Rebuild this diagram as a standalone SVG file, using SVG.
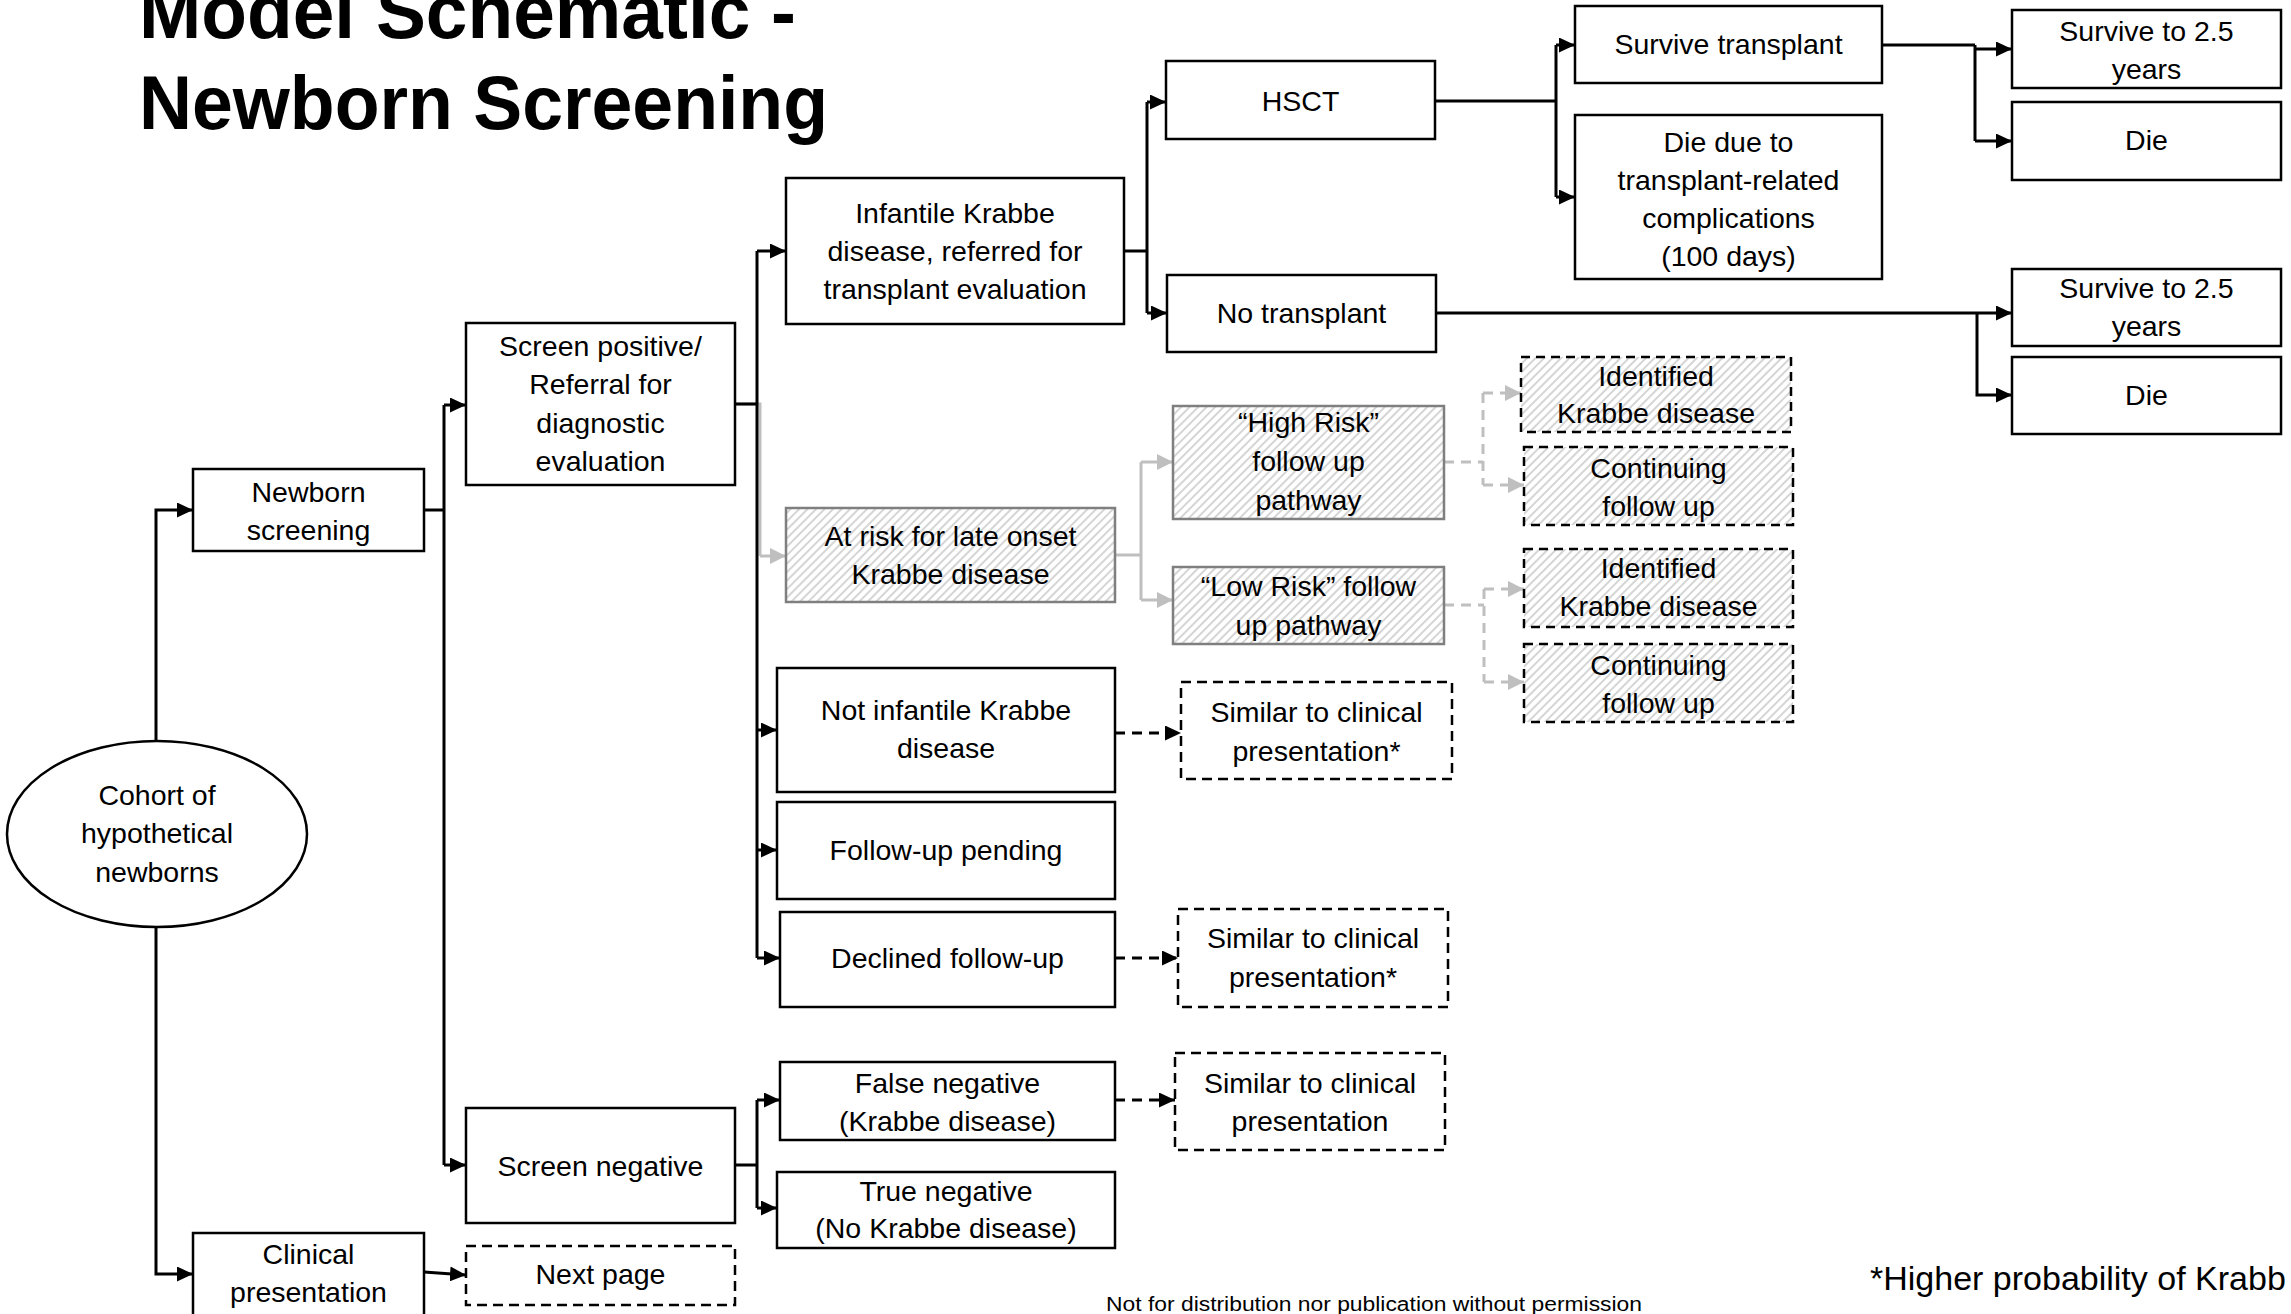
<svg xmlns="http://www.w3.org/2000/svg" width="2291" height="1314" viewBox="0 0 2291 1314">
<defs>
<style>
.box{fill:#fff;stroke:#000;stroke-width:2.5}
.dbox{fill:#fff;stroke:#000;stroke-width:2.5;stroke-dasharray:10 6}
.hbox{fill:url(#hatch);stroke:#7f7f7f;stroke-width:2.5}
.hdbox{fill:url(#hatch);stroke:#000;stroke-width:2.5;stroke-dasharray:9 6}
.t{font-family:"Liberation Sans",Arial,sans-serif;font-size:28.5px;text-anchor:middle;fill:#000}
.title{font-family:"Liberation Sans",Arial,sans-serif;font-size:76px;font-weight:bold;fill:#000}
.c{fill:none;stroke:#000;stroke-width:3}
.ca{fill:none;stroke:#000;stroke-width:3;marker-end:url(#ab)}
.cda{fill:none;stroke:#000;stroke-width:3;stroke-dasharray:10 7;marker-end:url(#ab)}
.g{fill:none;stroke:#bfbfbf;stroke-width:3}
.ga{fill:none;stroke:#bfbfbf;stroke-width:3;marker-end:url(#ag)}
.gd{fill:none;stroke:#bfbfbf;stroke-width:3;stroke-dasharray:10 7}
.gda{fill:none;stroke:#bfbfbf;stroke-width:3;stroke-dasharray:10 7;marker-end:url(#ag)}
</style>
<pattern id="hatch" patternUnits="userSpaceOnUse" width="6" height="6" patternTransform="rotate(45)">
<rect width="6" height="6" fill="#fff"/>
<line x1="1" y1="0" x2="1" y2="6" stroke="#b3b3b3" stroke-width="1.1"/>
</pattern>
<marker id="ab" markerUnits="userSpaceOnUse" markerWidth="17" markerHeight="15" refX="16" refY="7.5" orient="auto">
<path d="M0,0 L16,7.5 L0,15 z" fill="#000"/>
</marker>
<marker id="ag" markerUnits="userSpaceOnUse" markerWidth="17" markerHeight="16" refX="16" refY="8" orient="auto">
<path d="M0,0 L16,8 L0,16 z" fill="#bfbfbf"/>
</marker>
</defs>
<rect width="2291" height="1314" fill="#fff"/>

<g id="title">
<text class="title" x="139" y="38" textLength="657" lengthAdjust="spacingAndGlyphs">Model Schematic -</text>
<text class="title" x="139" y="129" textLength="689" lengthAdjust="spacingAndGlyphs">Newborn Screening</text>
</g>

<g id="connectors">
<path class="ca" d="M156,741 V510 H193"/>
<path class="ca" d="M156,927 V1274 H193"/>
<path class="c" d="M424,510 H444 M444,405 V1165"/>
<path class="ca" d="M444,405 H466"/>
<path class="ca" d="M444,1165 H466"/>
<path class="ca" d="M424,1272 L466,1275"/>
<path class="g" d="M735,404 H760 V556"/>
<path class="ga" d="M760,556 H786"/>
<path class="c" d="M735,404 H757 M757,251 V958"/>
<path class="ca" d="M757,251 H786"/>
<path class="ca" d="M757,730 H777"/>
<path class="ca" d="M757,850 H777"/>
<path class="ca" d="M757,958 H780"/>
<path class="c" d="M1124,251 H1147 M1147,102 V313"/>
<path class="ca" d="M1147,102 H1166"/>
<path class="ca" d="M1147,313 H1167"/>
<path class="c" d="M1435,101 H1556 M1556,45 V197"/>
<path class="ca" d="M1556,45 H1575"/>
<path class="ca" d="M1556,197 H1575"/>
<path class="c" d="M1882,45 H1975 M1975,45 V141"/>
<path class="ca" d="M1975,49 H2012"/>
<path class="ca" d="M1975,141 H2012"/>
<path class="ca" d="M1436,313 H2012"/>
<path class="ca" d="M1977,313 V395 H2012"/>
<path class="g" d="M1115,555 H1141 M1141,462 V600"/>
<path class="ga" d="M1141,462 H1173"/>
<path class="ga" d="M1141,600 H1173"/>
<path class="gd" d="M1444,462 H1483 M1483,393 V485"/>
<path class="gda" d="M1483,393 H1521"/>
<path class="gda" d="M1483,485 H1524"/>
<path class="gd" d="M1444,605 H1484 M1484,589 V682"/>
<path class="gda" d="M1484,589 H1524"/>
<path class="gda" d="M1484,682 H1524"/>
<path class="cda" d="M1115,733 H1181"/>
<path class="cda" d="M1115,958 H1178"/>
<path class="cda" d="M1115,1100 H1175"/>
<path class="c" d="M735,1165 H757 M757,1100 V1208"/>
<path class="ca" d="M757,1100 H780"/>
<path class="ca" d="M757,1208 H777"/>
</g>

<g id="cohort">
<ellipse cx="157" cy="834" rx="150" ry="93" class="box" stroke-width="2"/>
<text class="t" x="157" y="805">Cohort of</text>
<text class="t" x="157" y="843">hypothetical</text>
<text class="t" x="157" y="882">newborns</text>
</g>
<g id="newborn-screening">
<rect class="box" x="193" y="469" width="231" height="82"/>
<text class="t" x="308.5" y="502">Newborn</text>
<text class="t" x="308.5" y="540">screening</text>
</g>
<g id="clinical-presentation">
<rect class="box" x="193" y="1233" width="231" height="90"/>
<text class="t" x="308.5" y="1264">Clinical</text>
<text class="t" x="308.5" y="1302">presentation</text>
</g>
<g id="next-page">
<rect class="dbox" x="466" y="1246" width="269" height="59"/>
<text class="t" x="600.5" y="1284">Next page</text>
</g>
<g id="screen-positive">
<rect class="box" x="466" y="323" width="269" height="162"/>
<text class="t" x="600.5" y="356">Screen positive/</text>
<text class="t" x="600.5" y="394">Referral for</text>
<text class="t" x="600.5" y="433">diagnostic</text>
<text class="t" x="600.5" y="471">evaluation</text>
</g>
<g id="screen-negative">
<rect class="box" x="466" y="1108" width="269" height="115"/>
<text class="t" x="600.5" y="1176">Screen negative</text>
</g>
<g id="infantile">
<rect class="box" x="786" y="178" width="338" height="146"/>
<text class="t" x="955" y="223">Infantile Krabbe</text>
<text class="t" x="955" y="261">disease, referred for</text>
<text class="t" x="955" y="299">transplant evaluation</text>
</g>
<g id="at-risk">
<rect class="hbox" x="786" y="508" width="329" height="94"/>
<text class="t" x="950.5" y="546">At risk for late onset</text>
<text class="t" x="950.5" y="584">Krabbe disease</text>
</g>
<g id="not-infantile">
<rect class="box" x="777" y="668" width="338" height="124"/>
<text class="t" x="946" y="720">Not infantile Krabbe</text>
<text class="t" x="946" y="758">disease</text>
</g>
<g id="follow-up-pending">
<rect class="box" x="777" y="802" width="338" height="97"/>
<text class="t" x="946" y="860">Follow-up pending</text>
</g>
<g id="declined">
<rect class="box" x="780" y="912" width="335" height="95"/>
<text class="t" x="947.5" y="968">Declined follow-up</text>
</g>
<g id="false-negative">
<rect class="box" x="780" y="1062" width="335" height="78"/>
<text class="t" x="947.5" y="1093">False negative</text>
<text class="t" x="947.5" y="1131">(Krabbe disease)</text>
</g>
<g id="true-negative">
<rect class="box" x="777" y="1172" width="338" height="76"/>
<text class="t" x="946" y="1201">True negative</text>
<text class="t" x="946" y="1238">(No Krabbe disease)</text>
</g>
<g id="hsct">
<rect class="box" x="1166" y="61" width="269" height="78"/>
<text class="t" x="1300.5" y="111">HSCT</text>
</g>
<g id="no-transplant">
<rect class="box" x="1167" y="275" width="269" height="77"/>
<text class="t" x="1301.5" y="323">No transplant</text>
</g>
<g id="survive-transplant">
<rect class="box" x="1575" y="6" width="307" height="77"/>
<text class="t" x="1728.5" y="54">Survive transplant</text>
</g>
<g id="die-transplant">
<rect class="box" x="1575" y="115" width="307" height="164"/>
<text class="t" x="1728.5" y="152">Die due to</text>
<text class="t" x="1728.5" y="190">transplant-related</text>
<text class="t" x="1728.5" y="228">complications</text>
<text class="t" x="1728.5" y="266">(100 days)</text>
</g>
<g id="survive-1">
<rect class="box" x="2012" y="10" width="269" height="78"/>
<text class="t" x="2146.5" y="41">Survive  to 2.5</text>
<text class="t" x="2146.5" y="79">years</text>
</g>
<g id="die-1">
<rect class="box" x="2012" y="102" width="269" height="78"/>
<text class="t" x="2146.5" y="150">Die</text>
</g>
<g id="survive-2">
<rect class="box" x="2012" y="269" width="269" height="77"/>
<text class="t" x="2146.5" y="298">Survive  to 2.5</text>
<text class="t" x="2146.5" y="336">years</text>
</g>
<g id="die-2">
<rect class="box" x="2012" y="357" width="269" height="77"/>
<text class="t" x="2146.5" y="405">Die</text>
</g>
<g id="high-risk">
<rect class="hbox" x="1173" y="406" width="271" height="113"/>
<text class="t" x="1308.5" y="432">“High Risk”</text>
<text class="t" x="1308.5" y="471">follow up</text>
<text class="t" x="1308.5" y="510">pathway</text>
</g>
<g id="low-risk">
<rect class="hbox" x="1173" y="567" width="271" height="77"/>
<text class="t" x="1308.5" y="596">“Low Risk” follow</text>
<text class="t" x="1308.5" y="635">up pathway</text>
</g>
<g id="identified-1">
<rect class="hdbox" x="1521" y="357" width="270" height="75"/>
<text class="t" x="1656" y="386">Identified</text>
<text class="t" x="1656" y="423">Krabbe disease</text>
</g>
<g id="continuing-1">
<rect class="hdbox" x="1524" y="447" width="269" height="78"/>
<text class="t" x="1658.5" y="478">Continuing</text>
<text class="t" x="1658.5" y="516">follow up</text>
</g>
<g id="identified-2">
<rect class="hdbox" x="1524" y="549" width="269" height="78"/>
<text class="t" x="1658.5" y="578">Identified</text>
<text class="t" x="1658.5" y="616">Krabbe disease</text>
</g>
<g id="continuing-2">
<rect class="hdbox" x="1524" y="644" width="269" height="78"/>
<text class="t" x="1658.5" y="675">Continuing</text>
<text class="t" x="1658.5" y="713">follow up</text>
</g>
<g id="similar-1">
<rect class="dbox" x="1181" y="682" width="271" height="97"/>
<text class="t" x="1316.5" y="722">Similar to clinical</text>
<text class="t" x="1316.5" y="761">presentation*</text>
</g>
<g id="similar-2">
<rect class="dbox" x="1178" y="909" width="270" height="98"/>
<text class="t" x="1313" y="948">Similar to clinical</text>
<text class="t" x="1313" y="987">presentation*</text>
</g>
<g id="similar-3">
<rect class="dbox" x="1175" y="1053" width="270" height="97"/>
<text class="t" x="1310" y="1093">Similar to clinical</text>
<text class="t" x="1310" y="1131">presentation</text>
</g>

<g id="notes">
<text x="1870" y="1290" style="font-family:'Liberation Sans',Arial,sans-serif;font-size:34px;fill:#000">*Higher probability of Krabb</text>
<text x="1106" y="1311" textLength="536" lengthAdjust="spacingAndGlyphs" style="font-family:'Liberation Sans',Arial,sans-serif;font-size:20px;fill:#000">Not for distribution nor publication without permission</text>
</g>
</svg>
